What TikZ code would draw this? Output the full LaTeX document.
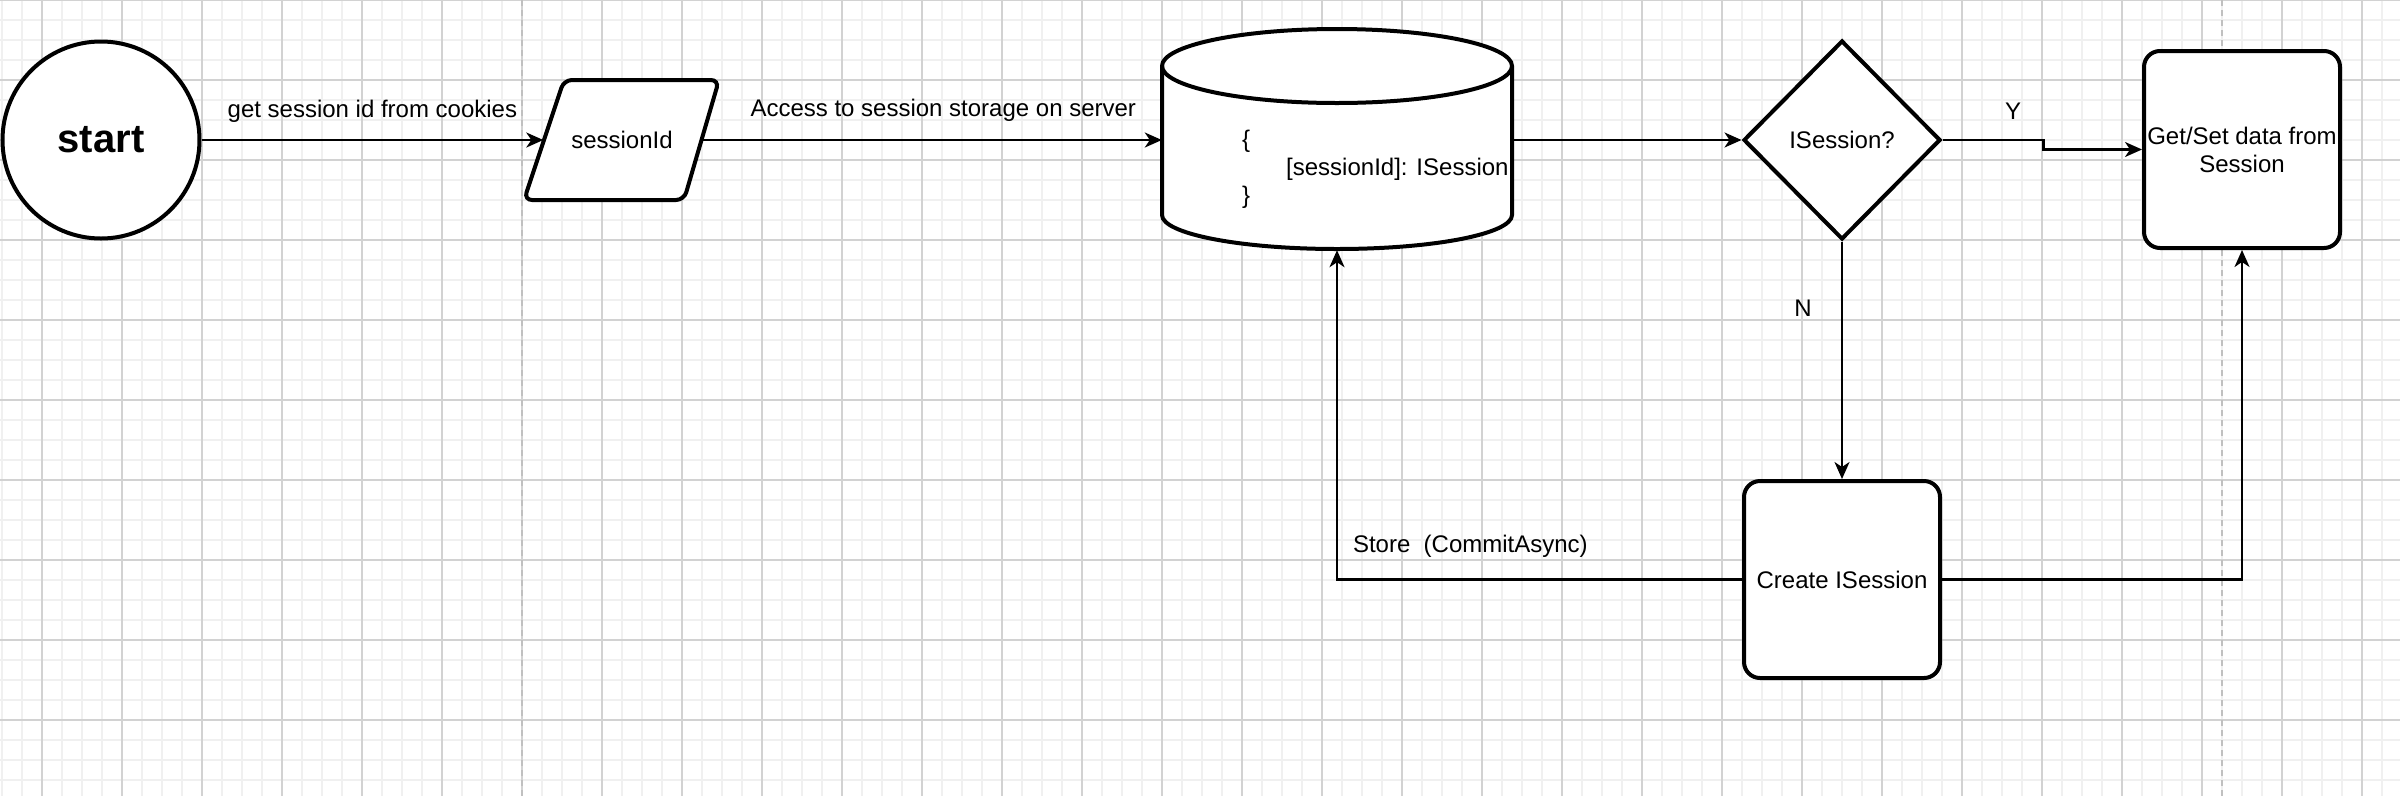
\documentclass[tikz,border=0pt]{standalone}
\usepackage{fontspec}
\setmainfont{Liberation Sans}
\usetikzlibrary{arrows.meta,shapes.geometric}
\definecolor{minorgrid}{HTML}{F0F0F0}
\definecolor{majorgrid}{HTML}{D2D2D2}
\definecolor{pagebreak}{HTML}{C0C0C0}
\begin{document}
\begin{tikzpicture}[x=1pt,y=-1pt,
  shp/.style={draw=black, line width=4pt, fill=white},
  box/.style={shp, rectangle, rounded corners=16pt, minimum width=196pt, minimum height=197pt, inner sep=0pt, align=center, font=\fontsize{24}{28}\selectfont},
  ghost/.style={rectangle, inner sep=0pt},
  edge/.style={draw=black, line width=2.2pt, -{Stealth[length=17pt,width=15pt,inset=5pt]}},
  lbl/.style={font=\fontsize{24}{28}\selectfont, inner sep=0pt},
]
\useasboundingbox (0,0) rectangle (2400,796);
\fill[white] (0,0) rectangle (2400,796);
% grid
\foreach \x in {2,22,...,2400} \draw[minorgrid, line width=1.5pt] (\x,0) -- (\x,796);
\foreach \y in {0,20,...,796} \draw[minorgrid, line width=1.5pt] (0,\y) -- (2400,\y);
\foreach \x in {42,122,...,2400} \draw[majorgrid, line width=1.2pt] (\x,0) -- (\x,796);
\foreach \y in {0,80,...,796} \draw[majorgrid, line width=1.2pt] (0,\y) -- (2400,\y);
\draw[pagebreak, line width=1.5pt, dash pattern=on 6pt off 4pt] (522,0) -- (522,796);
\draw[pagebreak, line width=1.5pt, dash pattern=on 6pt off 4pt] (2222,0) -- (2222,796);

% start
\node[shp, circle, minimum size=197pt, inner sep=0pt, font=\bfseries\fontsize{40}{48}\selectfont] (start) at (101,140) {start};

% sessionId parallelogram
\draw[shp, rounded corners=8pt] (564,80) -- (719,80) -- (684,200) -- (524,200) -- cycle;
\node[ghost, minimum width=157pt, minimum height=120pt, font=\fontsize{24}{28}\selectfont] (sid) at (622,140) {sessionId};

% cylinder
\draw[shp] (1162,66) -- (1162,215)
  .. controls (1162,233.8) and (1240.3,249) .. (1337,249)
  .. controls (1433.7,249) and (1512,233.8) .. (1512,215)
  -- (1512,66)
  .. controls (1512,45.6) and (1433.7,29) .. (1337,29)
  .. controls (1240.3,29) and (1162,45.6) .. (1162,66) -- cycle;
\draw[line width=4pt] (1162,66) .. controls (1162,86.4) and (1240.3,103) .. (1337,103)
  .. controls (1433.7,103) and (1512,86.4) .. (1512,66);
\node[ghost, minimum width=350pt, minimum height=220pt] (db) at (1337,140) {};
\node[lbl, align=left, anchor=west] (dbtxt) at (1242,169) {\{\\\hspace{44pt}[sessionId]: ISession\\\}};

% decision
\node[shp, diamond, minimum width=197pt, minimum height=199pt, inner sep=0pt, font=\fontsize{24}{28}\selectfont] (dec) at (1842,140) {ISession?};

% boxes
\node[box] (gs) at (2242,149.5) {Get/Set data from\\Session};
\node[box] (cr) at (1842,579.5) {Create ISession};

% edges
\draw[edge] (start) -- node[lbl, midway, yshift=29pt] {get session id from cookies} (sid);
\draw[edge] (sid) -- node[lbl, midway, yshift=30pt, xshift=12pt] {Access to session storage on server} (db);
\draw[edge] (db) -- (dec);
\draw[edge] (dec.east) -- node[lbl, pos=0.7, yshift=29pt] {Y} ++(101,0) |- (gs.west);
\draw[edge] (dec.south) -- node[lbl, pos=0.28, xshift=-39pt] {N} (cr.north);
\draw[edge] (cr.west) -| node[lbl, pos=0.4816, anchor=west, yshift=33pt] {Store\ \ (CommitAsync)} (db.south);
\draw[edge] (cr.east) -| (gs.south);
\end{tikzpicture}
\end{document}
